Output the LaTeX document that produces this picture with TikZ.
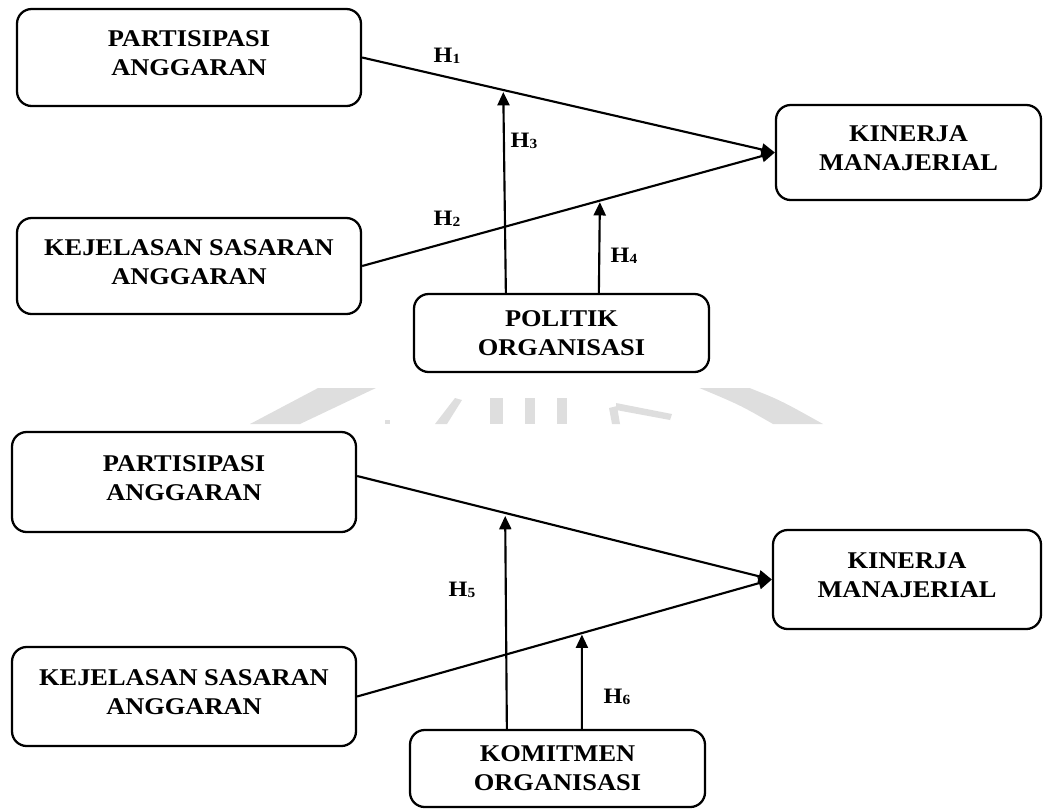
\documentclass[tikz,border=0pt]{standalone}
\usepackage{fontspec}
\setmainfont{Liberation Serif}[FakeStretch=1.1]
\usetikzlibrary{arrows.meta,calc}
\newcommand\hyp[1]{H\raisebox{-0.6pt}{\fontsize{10.5}{12}\selectfont #1}}
\begin{document}
\begin{tikzpicture}[x=0.75pt,y=-0.75pt,
  box/.style={draw, line width=1.7pt, rounded corners=11pt, align=center, inner sep=0pt,
    font=\fontsize{18}{21.75}\selectfont\bfseries, text depth=6pt},
  lowbox/.style={box, text depth=-5.5pt},
  arr/.style={line width=1.6pt, -{Triangle[length=10pt,width=9pt]}},
  hlab/.style={font=\fontsize{16.5}{18}\selectfont\bfseries, inner sep=0pt},
  wm/.style={fill=black!13, draw=none}]
\useasboundingbox (0,0) rectangle (1043,808);

% faint watermark band
\begin{scope}
\clip (0,388) rectangle (1043,424);
\fill[wm] (250,424) -- (300,424) -- (378,387) -- (320,387) -- cycle;
\fill[wm] (435,424) -- (447,424) -- (462,400) -- (455,398) -- cycle;
\fill[wm] (490,398) rectangle (503,424);
\fill[wm] (525,398) rectangle (535,424);
\fill[wm] (557,398) rectangle (567,424);
\fill[wm] (609,408) -- (617,406) -- (620,424) -- (612,424) -- cycle;
\fill[wm] (616,403) -- (672,414) -- (670,420) -- (616,410) -- cycle;
\fill[wm] (697,387) -- (747,387) .. controls (780,400) .. (823,424) -- (773,424) .. controls (740,405) .. cycle;
\fill[wm] (385,420) rectangle (390,424);
\end{scope}

% ---------- top diagram ----------
\node[box, minimum width=258pt, minimum height=72.75pt] (pa1) at (189,57.5) {PARTISIPASI\\ANGGARAN};
\node[box, minimum width=258pt, minimum height=72pt] (ksa1) at (189,266) {KEJELASAN SASARAN\\ANGGARAN};
\node[lowbox, minimum width=221.25pt, minimum height=58.5pt] (po) at (561.5,333) {POLITIK\\ORGANISASI};
\node[box, minimum width=198.75pt, minimum height=71.25pt] (km1) at (908.5,152.5) {KINERJA\\MANAJERIAL};

\draw[arr] (pa1.east) -- (km1.west);
\draw[arr] (ksa1.east) -- (km1.west);
\coordinate (t3) at ($(pa1.east)!0.342!(km1.west)+(0,2)$);
\coordinate (t4) at ($(ksa1.east)!0.576!(km1.west)+(0,1.5)$);
\draw[arr] ($(po.north west)+(93,0)$) -- (t3);
\draw[arr] ($(po.north west)+(186,0)$) -- (t4);

\node[hlab] (h1) at (447,56) {\hyp{1}};
\node[hlab] (h2) at (447,219) {\hyp{2}};
\node[hlab] (h3) at (524,141) {\hyp{3}};
\node[hlab] (h4) at (624,256) {\hyp{4}};

% ---------- bottom diagram ----------
\node[box, minimum width=258pt, minimum height=75pt] (pa2) at (184,482) {PARTISIPASI\\ANGGARAN};
\node[box, minimum width=258pt, minimum height=74.25pt] (ksa2) at (184,696.5) {KEJELASAN SASARAN\\ANGGARAN};
\node[lowbox, minimum width=221.25pt, minimum height=57.75pt] (ko) at (557.5,768.5) {KOMITMEN\\ORGANISASI};
\node[box, minimum width=201pt, minimum height=74.25pt] (km2) at (907,579.5) {KINERJA\\MANAJERIAL};

\coordinate (s1) at ($(pa2.east)+(0,-6)$);
\draw[arr] (s1) -- (km2.west);
\draw[arr] (ksa2.east) -- (km2.west);
\coordinate (t5) at ($(s1)!0.357!(km2.west)+(0,3)$);
\coordinate (t6) at ($(ksa2.east)!0.542!(km2.west)+(0,1.5)$);
\draw[arr] ($(ko.north west)+(98,0)$) -- (t5);
\draw[arr] ($(ko.north west)+(173,0)$) -- (t6);

\node[hlab] (h5) at (462,590) {\hyp{5}};
\node[hlab] (h6) at (617,697) {\hyp{6}};
\end{tikzpicture}
\end{document}
